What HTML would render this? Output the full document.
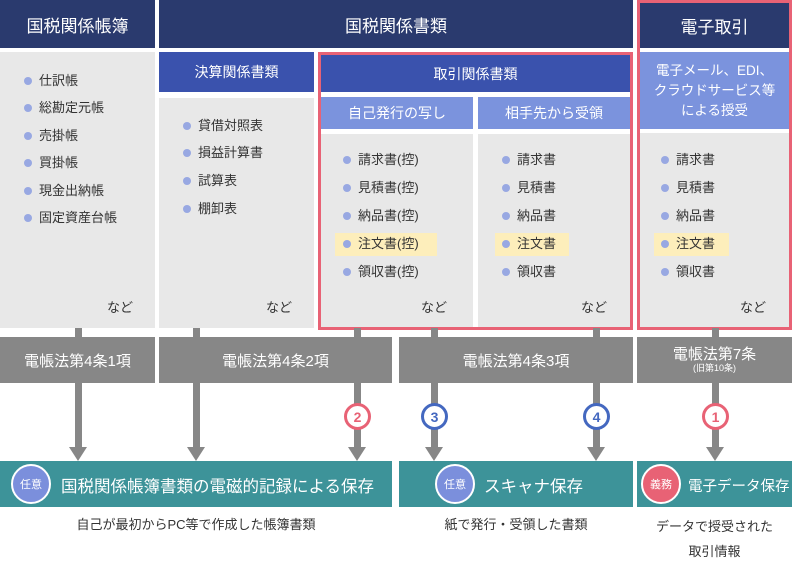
<!DOCTYPE html>
<html><head><meta charset="utf-8"><style>
*{margin:0;padding:0;box-sizing:border-box}
body{width:792px;height:563px;background:#fff;position:relative;overflow:hidden;font-family:"Liberation Sans","Noto Sans CJK JP",sans-serif}
div,span{position:absolute}
.nv{background:#2a3a6e;color:#fff;font-size:17px;display:flex;align-items:center;justify-content:center}
.bl{background:#3a52ad;color:#fff;font-size:14px;display:flex;align-items:center;justify-content:center}
.lb{background:#7b93dd;color:#fff;font-size:14px;display:flex;align-items:center;justify-content:center;text-align:center;line-height:20px}
.gb{background:#e8e8e8}
.pk{border:3px solid #e86275}
.it{font-size:13px;color:#333;white-space:nowrap;line-height:22px}
.it::before{content:"";position:absolute;left:-15px;top:7px;width:8px;height:8px;border-radius:50%;background:#98a8e2}
.hl{background:#fdeebb}
.nd{font-size:13px;color:#333}
.lg{background:#878787;color:#fff;font-size:15px;display:flex;align-items:center;justify-content:center}
.st{background:#878787;width:7px}
.ah{width:0;height:0;border-left:9px solid transparent;border-right:9px solid transparent;border-top:14px solid #878787}
.cn{width:27px;height:27px;border-radius:50%;background:#fff;border:3px solid;font-size:14px;font-weight:bold;display:flex;align-items:center;justify-content:center}
.tl{background:#3d9399;color:#fff;font-size:16px}
.bd{width:40px;height:40px;border-radius:50%;border:2px solid #fff;color:#fff;font-size:11px;display:flex;align-items:center;justify-content:center}
.cap{font-size:13px;color:#333;text-align:center}
</style></head><body>
<div class="nv" style="left:0;top:0;width:155px;height:48px">国税関係帳簿</div>
<div class="nv" style="left:159px;top:0;width:474px;height:48px">国税関係書類</div>
<div class="pk" style="left:637px;top:0;width:155px;height:330px"></div>
<div class="nv" style="left:640px;top:3px;width:149px;height:45px">電子取引</div>

<div class="gb" style="left:0;top:52px;width:155px;height:276px"></div>
<div class="bl" style="left:159px;top:52px;width:155px;height:40px">決算関係書類</div>
<div class="gb" style="left:159px;top:98px;width:155px;height:230px"></div>

<div class="pk" style="left:318px;top:52px;width:315px;height:278px"></div>
<div class="bl" style="left:321px;top:55px;width:309px;height:37px">取引関係書類</div>
<div class="lb" style="left:321px;top:97px;width:152px;height:32px">自己発行の写し</div>
<div class="lb" style="left:478px;top:97px;width:152px;height:32px">相手先から受領</div>
<div class="gb" style="left:321px;top:134px;width:152px;height:193px"></div>
<div class="gb" style="left:478px;top:134px;width:152px;height:193px"></div>
<div class="lb" style="left:640px;top:52px;width:149px;height:77px;font-size:13.5px">電子メール、EDI、<br>クラウドサービス等<br>による授受</div>
<div class="gb" style="left:640px;top:133px;width:149px;height:194px"></div>

<span class="it" style="left:39px;top:70px">仕訳帳</span>
<span class="it" style="left:39px;top:97px">総勘定元帳</span>
<span class="it" style="left:39px;top:125px">売掛帳</span>
<span class="it" style="left:39px;top:152px">買掛帳</span>
<span class="it" style="left:39px;top:180px">現金出納帳</span>
<span class="it" style="left:39px;top:207px">固定資産台帳</span>
<span class="nd" style="left:107px;top:297px">など</span>

<span class="it" style="left:198px;top:115px">貸借対照表</span>
<span class="it" style="left:198px;top:142px">損益計算書</span>
<span class="it" style="left:198px;top:170px">試算表</span>
<span class="it" style="left:198px;top:198px">棚卸表</span>
<span class="nd" style="left:266px;top:297px">など</span>

<div class="hl" style="left:335px;top:233px;width:102px;height:23px"></div>
<span class="it" style="left:358px;top:149px">請求書(控)</span>
<span class="it" style="left:358px;top:177px">見積書(控)</span>
<span class="it" style="left:358px;top:205px">納品書(控)</span>
<span class="it" style="left:358px;top:233px">注文書(控)</span>
<span class="it" style="left:358px;top:261px">領収書(控)</span>
<span class="nd" style="left:421px;top:297px">など</span>

<div class="hl" style="left:495px;top:233px;width:74px;height:23px"></div>
<span class="it" style="left:517px;top:149px">請求書</span>
<span class="it" style="left:517px;top:177px">見積書</span>
<span class="it" style="left:517px;top:205px">納品書</span>
<span class="it" style="left:517px;top:233px">注文書</span>
<span class="it" style="left:517px;top:261px">領収書</span>
<span class="nd" style="left:581px;top:297px">など</span>

<div class="hl" style="left:654px;top:233px;width:75px;height:23px"></div>
<span class="it" style="left:676px;top:149px">請求書</span>
<span class="it" style="left:676px;top:177px">見積書</span>
<span class="it" style="left:676px;top:205px">納品書</span>
<span class="it" style="left:676px;top:233px">注文書</span>
<span class="it" style="left:676px;top:261px">領収書</span>
<span class="nd" style="left:740px;top:297px">など</span>

<div class="st" style="left:75px;top:328px;height:10px"></div>
<div class="st" style="left:193px;top:328px;height:10px"></div>
<div class="st" style="left:354px;top:328px;height:10px"></div>
<div class="st" style="left:431px;top:328px;height:10px"></div>
<div class="st" style="left:593px;top:328px;height:10px"></div>
<div class="st" style="left:712px;top:328px;height:10px"></div>

<div class="lg" style="left:0;top:337px;width:155px;height:46px">電帳法第4条1項</div>
<div class="lg" style="left:159px;top:337px;width:233px;height:46px">電帳法第4条2項</div>
<div class="lg" style="left:399px;top:337px;width:234px;height:46px">電帳法第4条3項</div>
<div class="lg" style="left:637px;top:337px;width:155px;height:46px;flex-direction:column;line-height:17px">電帳法第7条<span style="position:static;font-size:9px;line-height:11px">(旧第10条)</span></div>

<div class="st" style="left:75px;top:383px;height:65px"></div>
<div class="st" style="left:193px;top:383px;height:65px"></div>
<div class="st" style="left:354px;top:383px;height:65px"></div>
<div class="st" style="left:431px;top:383px;height:65px"></div>
<div class="st" style="left:593px;top:383px;height:65px"></div>
<div class="st" style="left:712px;top:383px;height:65px"></div>
<div class="ah" style="left:69px;top:447px"></div>
<div class="ah" style="left:187px;top:447px"></div>
<div class="ah" style="left:348px;top:447px"></div>
<div class="ah" style="left:425px;top:447px"></div>
<div class="ah" style="left:587px;top:447px"></div>
<div class="ah" style="left:706px;top:447px"></div>

<div class="cn" style="left:344px;top:403px;border-color:#e86275;color:#e86275">2</div>
<div class="cn" style="left:421px;top:403px;border-color:#4468c0;color:#4468c0">3</div>
<div class="cn" style="left:583px;top:403px;border-color:#4468c0;color:#4468c0">4</div>
<div class="cn" style="left:702px;top:403px;border-color:#e86275;color:#e86275">1</div>

<div class="tl" style="left:0;top:461px;width:392px;height:46px"></div>
<div class="bd" style="left:11px;top:464px;background:#7b8fdc">任意</div>
<span style="left:61px;top:473px;color:#fff;font-size:16.5px;white-space:nowrap">国税関係帳簿書類の電磁的記録による保存</span>
<div class="tl" style="left:399px;top:461px;width:234px;height:46px"></div>
<div class="bd" style="left:435px;top:464px;background:#7b8fdc">任意</div>
<span style="left:484px;top:473px;color:#fff;font-size:16.5px;white-space:nowrap">スキャナ保存</span>
<div class="tl" style="left:637px;top:461px;width:155px;height:46px"></div>
<div class="bd" style="left:641px;top:464px;background:#e86275">義務</div>
<span style="left:688px;top:475px;color:#fff;font-size:14.5px;white-space:nowrap">電子データ保存</span>

<div class="cap" style="left:0;top:514px;width:392px">自己が最初からPC等で作成した帳簿書類</div>
<div class="cap" style="left:399px;top:514px;width:234px">紙で発行・受領した書類</div>
<div class="cap" style="left:637px;top:514px;width:155px;line-height:25px">データで授受された<br>取引情報</div>
</body></html>
